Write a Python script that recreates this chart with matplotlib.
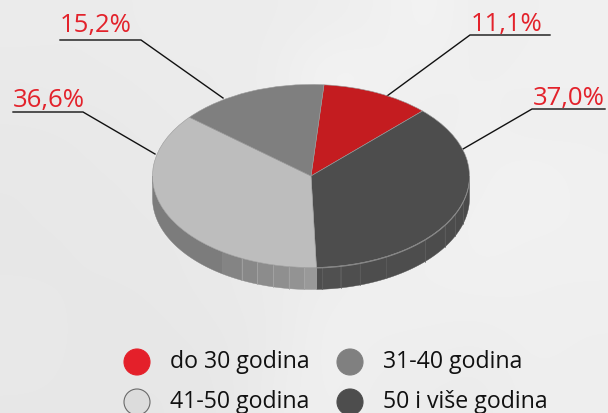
import numpy as np
import matplotlib
matplotlib.use("Agg")
import matplotlib.pyplot as plt
from matplotlib.patches import Polygon, Circle

plt.rcParams["font.family"] = ["Open Sans", "DejaVu Sans"]

shares = [11.1, 37.0, 36.6, 15.2]
share_labels = ["11,1%", "37,0%", "36,6%", "15,2%"]
top_colors = ["#c41c20", "#4d4d4d", "#bdbdbd", "#7f7f7f"]
legend_labels = ["do 30 godina", "31-40 godina", "41-50 godina", "50 i više godina"]
legend_colors = ["#e4202a", "#808080", "#dcdcdc", "#4d4d4d"]

W, H = 608, 414
cx, cy, rx, ry, depth = 311, 177, 158.5, 91.5, 22
start = 85.3

# soft blotchy backdrop, greys 0-255
backdrop = np.array([
    [235, 234, 235, 236, 235, 236, 237, 239, 243, 237, 239, 240],
    [233, 234, 234, 235, 235, 237, 244, 241, 239, 239, 240, 239],
    [232, 232, 233, 234, 235, 236, 239, 239, 238, 240, 237, 239],
    [231, 232, 232, 233, 234, 235, 236, 238, 240, 239, 243, 239],
    [231, 231, 232, 232, 233, 234, 235, 237, 239, 241, 240, 240],
    [231, 231, 231, 232, 233, 235, 237, 240, 239, 240, 239, 239],
    [232, 231, 230, 231, 232, 234, 240, 238, 238, 237, 239, 238],
    [231, 231, 230, 230, 231, 236, 239, 236, 236, 235, 238, 237],
])

fig = plt.figure(figsize=(W / 100, H / 100), dpi=100)
ax = fig.add_axes([0, 0, 1, 1])
ax.imshow(backdrop, cmap="gray", vmin=0, vmax=255, extent=(0, W, H, 0),
          aspect="auto", interpolation="bicubic", zorder=0)
ax.set_xlim(0, W)
ax.set_ylim(H, 0)
ax.axis("off")


def rim(a):
    # a is clock angle from 12 o'clock, degrees
    t = np.radians(a)
    return cx + rx * np.sin(t), cy - ry * np.cos(t)


# side wall: bands as clock angles with their grey
wall_edges = [90, 106.4, 114.7, 122.3, 134, 151.5, 162, 169.2, 176, 177.9,
              182.4, 188, 193.8, 199.8, 205.9, 214, 270]
wall_colors = ["#4a4a4a", "#4b4b4b", "#4c4c4c", "#4c4c4c", "#4d4d4d", "#4d4d4d",
               "#4e4e4e", "#505050", "#4e4e4e",
               "#999999", "#939393", "#8f8f8f", "#8c8c8c", "#888888", "#848484",
               "#7c7c7c"]
seams = [106.4, 114.7, 122.3, 134, 162, 169.2, 176]
for a0, a1, c in zip(wall_edges[:-1], wall_edges[1:], wall_colors):
    aa = np.linspace(a0, a1, 40)
    x, y = rim(aa)
    pts = np.r_[np.c_[x, y], np.c_[x[::-1], y[::-1] + depth]]
    ax.add_patch(Polygon(pts, closed=True, fc=c, ec=c, lw=0.3, zorder=2))
for a in seams:
    x, y = rim(a)
    ax.plot([x, x], [y, y + depth], color="#626262", lw=0.5, zorder=2.5)
for a in wall_edges[10:15]:
    x, y = rim(a)
    ax.plot([x, x], [y, y + depth], color="#a8a8a8", lw=0.5, zorder=2.5)
aa = np.linspace(90, 177.9, 120)
x, y = rim(aa)
ax.plot(x, y + 0.6, color="#8c8c8c", lw=0.6, zorder=2.5)

# top face
pie_ax = fig.add_axes([(cx - rx) / W, 1 - (cy + ry) / H, 2 * rx / W, 2 * ry / H])
pie_ax.patch.set_alpha(0)
pie_ax.pie(shares, colors=top_colors, startangle=start, counterclock=False,
           radius=1, wedgeprops=dict(linewidth=0.4, edgecolor="#9a9a9a"))
pie_ax.set_aspect("auto")
pie_ax.set_xlim(-1, 1)
pie_ax.set_ylim(-1, 1)
pie_ax.set_zorder(3)

# leader lines and value labels
leaders = [
    [(387, 97), (470, 36), (550, 36)],
    [(463, 150), (532, 110), (605, 110)],
    [(155, 155), (83, 113), (13, 113)],
    [(223, 99), (141, 41), (60, 41)],
]
label_pos = [(471, 31), (533, 105), (13, 107), (60, 32)]
for pts, txt, (tx, ty) in zip(leaders, share_labels, label_pos):
    ax.plot(*zip(*pts), color="#111111", lw=1.0, zorder=1, solid_joinstyle="miter")
    ax.text(tx, ty, txt, color="#e3222b", fontsize=18.5, ha="left", va="baseline")

# legend
legend_x = [137, 350, 137, 350]
legend_y = [363, 363, 403, 403]
text_x = [170, 383, 170, 383]
for i in range(4):
    edge = "#6a6a6a" if i == 2 else legend_colors[i]
    ax.add_patch(Circle((legend_x[i], legend_y[i]), 13, fc=legend_colors[i], ec=edge,
                        lw=0.8, zorder=2))
    ax.text(text_x[i], legend_y[i] - 1, legend_labels[i], color="#111111", fontsize=16.7,
            ha="left", va="center")

fig.savefig("out.png", dpi=100)
